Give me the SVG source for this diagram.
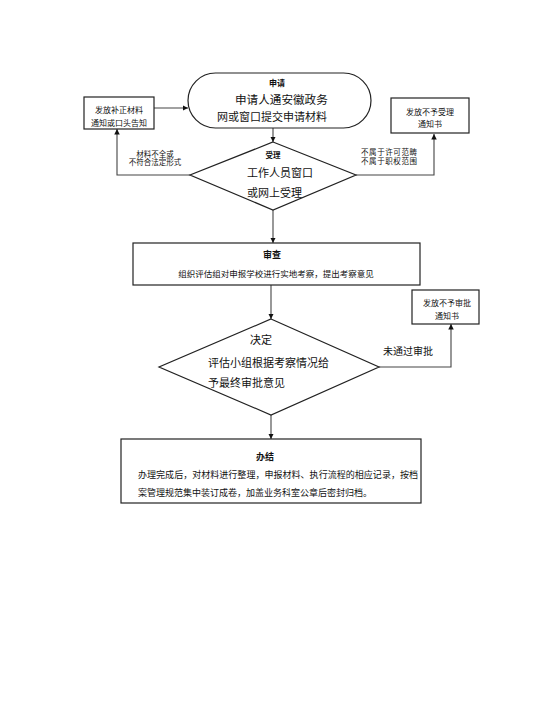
<svg xmlns="http://www.w3.org/2000/svg" width="548" height="727" viewBox="0 0 548 727">
<defs>
<marker id="ah" viewBox="0 0 10 10" refX="10" refY="5" markerWidth="5" markerHeight="5" orient="auto"><path d="M0,0 L10,5 L0,10 z" fill="#111"/></marker>
<style>
text{font-family:"Liberation Sans","Noto Sans CJK SC",sans-serif;fill:#111}
.shape{fill:#fff;stroke:#222;stroke-width:1.2}
.conn{fill:none;stroke:#444;stroke-width:1.1;marker-end:url(#ah)}
.b{font-weight:bold}
.s8{font-size:8px}
.s75{font-size:7.5px}
.s11{font-size:11px}
.s9{font-size:9px}
.m{text-anchor:middle}
</style>
</defs>
<rect width="548" height="727" fill="#fff"/>
<g id="connectors">
<path class="conn" d="M154,108 L188,108"/>
<path class="conn" d="M273,128 L273,142"/>
<path class="conn" d="M190,175 L117,175 L117,129"/>
<path class="conn" d="M356,175 L434,175 L434,134"/>
<path class="conn" d="M273,210 L273,243"/>
<path class="conn" d="M271,285 L271,319"/>
<path class="conn" d="M379,367 L451,367 L451,324"/>
<path class="conn" d="M271,415 L271,439"/>
<text class="s75 m" x="155" y="157">材料不全或</text>
<text class="s75 m" x="155" y="165">不符合法定形式</text>
<text class="s75" x="361" y="155" textLength="56">不属于许可范畴</text>
<text class="s75" x="361" y="164" textLength="56">不属于职权范围</text>
<text x="383" y="355" style="font-size:10px">未通过审批</text>
</g>
<g id="apply">
<rect class="shape" x="188" y="73" width="183" height="55" rx="27.5" ry="27.5"/>
<text class="b s8 m" x="277" y="86">申请</text>
<text x="235" y="104" style="font-size:11.6px">申请人通安徽政务</text>
<text x="217" y="121" style="font-size:11px">网或窗口提交申请材料</text>
</g>
<g id="correction">
<rect class="shape" x="84" y="97" width="70" height="32"/>
<text class="s8 m" x="119" y="113">发放补正材料</text>
<text class="s8 m" x="119" y="126">通知或口头告知</text>
</g>
<g id="reject-accept">
<rect class="shape" x="391" y="98" width="78" height="35"/>
<text class="s8 m" x="430" y="115">发放不予受理</text>
<text class="s8 m" x="430" y="127">通知书</text>
</g>
<g id="accept">
<polygon class="shape" points="273,142 356,175 273,210 190,175"/>
<text class="b s75 m" x="273" y="158">受理</text>
<text class="s11" x="247" y="177">工作人员窗口</text>
<text class="s11" x="247" y="197">或网上受理</text>
</g>
<g id="review">
<rect class="shape" x="133" y="243" width="287" height="42"/>
<text class="b s9 m" x="272" y="258">审查</text>
<text class="m" x="276" y="277" style="font-size:8.5px">组织评估组对申报学校进行实地考察，提出考察意见</text>
</g>
<g id="reject-approve">
<rect class="shape" x="412" y="290" width="67" height="34"/>
<text class="s8 m" x="447" y="306">发放不予审批</text>
<text class="s8 m" x="447" y="319">通知书</text>
</g>
<g id="decide">
<polygon class="shape" points="271,319 379,367 271,415 159,367"/>
<text class="s11" x="250" y="344">决定</text>
<text class="s11" x="208" y="367">评估小组根据考察情况给</text>
<text class="s11" x="208" y="387">予最终审批意见</text>
</g>
<g id="finish">
<rect class="shape" x="121" y="439" width="300" height="64"/>
<text class="b s9 m" x="265" y="460">办结</text>
<text class="s9" x="138" y="478" textLength="280">办理完成后，对材料进行整理，申报材料、执行流程的相应记录，按档</text>
<text class="s9" x="138" y="496">案管理规范集中装订成卷，加盖业务科室公章后密封归档。</text>
</g>
</svg>
